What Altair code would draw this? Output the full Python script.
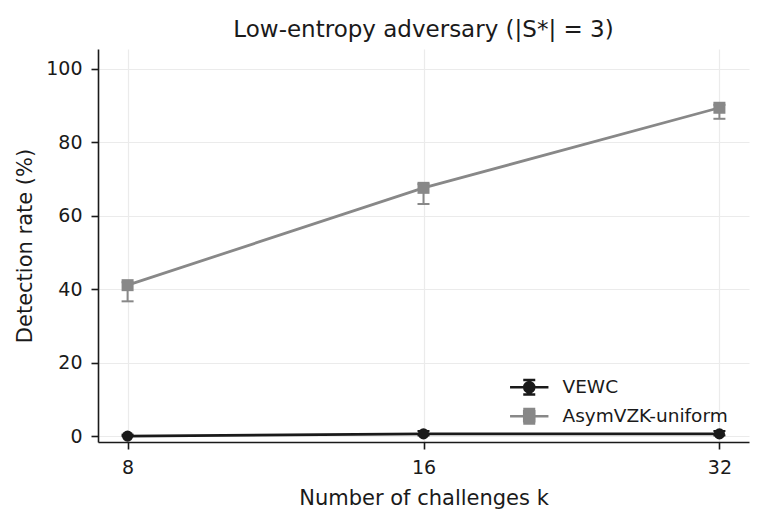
import altair as alt
import pandas as pd

# ---- data ----
series = ["VEWC", "AsymVZK-uniform"]
colors = ["#1a1a1a", "#888888"]
k_values = [8, 16, 32]
vewc_rate = [0.0, 0.6, 0.6]
vewc_lo = [0.0, 0.2, 0.2]
vewc_hi = [0.4, 1.4, 1.4]
asym_rate = [41.1, 67.6, 89.4]
asym_lo = [36.7, 63.2, 86.4]
asym_hi = [41.9, 68.6, 90.2]
y_ticks = [0, 20, 40, 60, 80, 100]

rows = []
for name, rate, lo, hi in [(series[0], vewc_rate, vewc_lo, vewc_hi),
                           (series[1], asym_rate, asym_lo, asym_hi)]:
    for k, r, l, h in zip(k_values, rate, lo, hi):
        rows.append({"series": name, "k": k, "rate": r, "lo": l, "hi": h})
df = pd.DataFrame(rows)

FONT = "DejaVu Sans"

x_enc = alt.X("k:Q",
              scale=alt.Scale(type="log", base=2, domain=[2 ** 2.9, 2 ** 5.1], nice=False),
              axis=alt.Axis(values=k_values, format="d", title="Number of challenges k",
                            labelPadding=9, titlePadding=10))
y_enc = alt.Y("rate:Q",
              scale=alt.Scale(domain=[-1.6, 105.4], nice=False, zero=False),
              axis=alt.Axis(values=y_ticks, title="Detection rate (%)",
                            labelPadding=9, titlePadding=10))
# data-driven (alphabetical) domain for the mark colours: AsymVZK-uniform, VEWC
color_enc = alt.Color("series:N", scale=alt.Scale(range=[colors[1], colors[0]]), legend=None)

base = alt.Chart(df)

err_rule = base.mark_rule(strokeWidth=2).encode(
    x=x_enc, y=alt.Y("lo:Q"), y2="hi:Q", color=color_enc)
cap_lo = base.mark_tick(orient="horizontal", size=12, thickness=2, opacity=1).encode(
    x=x_enc, y=alt.Y("lo:Q"), color=color_enc)
cap_hi = base.mark_tick(orient="horizontal", size=12, thickness=2, opacity=1).encode(
    x=x_enc, y=alt.Y("hi:Q"), color=color_enc)
lines = base.mark_line(strokeWidth=2.8).encode(
    x=x_enc, y=y_enc, color=color_enc, detail="series:N")
pts_c = base.transform_filter(alt.datum.series == series[0]).mark_point(
    shape="circle", filled=True, size=124, opacity=1).encode(
    x=x_enc, y=y_enc, color=color_enc)
pts_s = base.transform_filter(alt.datum.series == series[1]).mark_point(
    shape="square", filled=True, size=144, opacity=1).encode(
    x=x_enc, y=y_enc, color=color_enc)

# legend symbols: line + error bar + marker (custom paths, unit = 6px)
legend_paths = [
    "M-3.2,0H3.2M0,-1.2V1.2M-1,-1.2H1M-1,1.2H1M0.85,0A0.85,0.85 0 1,1 -0.85,0A0.85,0.85 0 1,1 0.85,0Z",
    "M-3.2,0H3.2M0,-1.2V1.2M-1,-1.2H1M-1,1.2H1M-0.85,-0.85H0.85V0.85H-0.85Z",
]
leg = alt.Legend(orient="none", legendX=422, legendY=329,
                 symbolSize=144, symbolStrokeWidth=2.4, symbolOpacity=1,
                 labelFont=FONT, labelFontSize=18.5, labelColor="#1a1a1a", labelLimit=400,
                 labelOffset=24, rowPadding=4, padding=0)
legend_layer = base.mark_point(filled=True, opacity=0).encode(
    x=x_enc, y=y_enc,
    shape=alt.Shape("series:N", scale=alt.Scale(domain=series, range=legend_paths),
                    legend=leg, title=""),
    fill=alt.Fill("series:N", scale=alt.Scale(domain=series, range=colors), legend=leg, title=""),
    stroke=alt.Stroke("series:N", scale=alt.Scale(domain=series, range=colors), legend=leg, title=""),
)

chart = alt.layer(err_rule, cap_lo, cap_hi, lines, pts_c, pts_s, legend_layer).properties(
    width=651, height=393,
    title=alt.TitleParams("Low-entropy adversary (|S*| = 3)", font=FONT, fontSize=23,
                          fontWeight="normal", color="#1a1a1a", anchor="middle",
                          baseline="alphabetic", offset=12, dy=23, frame="group"),
    autosize=alt.AutoSizeParams(type="none"),
    padding={"left": 90, "top": 41, "right": 6, "bottom": 75},
).configure_view(stroke=None).configure_axis(
    domainColor="#1a1a1a", domainWidth=1.6, tickColor="#1a1a1a", tickWidth=1.6, tickSize=7,
    labelFont=FONT, labelFontSize=19, labelColor="#1a1a1a",
    titleFont=FONT, titleFontSize=21, titleFontWeight="normal", titleColor="#1a1a1a",
    gridColor="#ebebeb", gridWidth=1.2,
)

chart.save("out.html", embed_options={"renderer": "svg", "actions": False})
